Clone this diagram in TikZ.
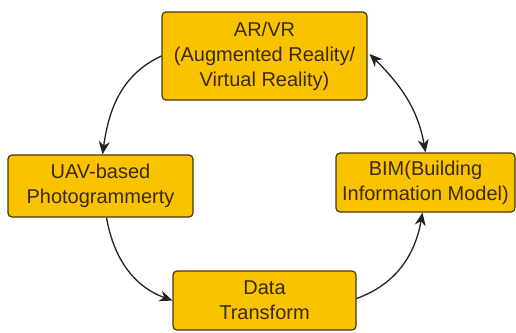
\documentclass[tikz,border=0pt]{standalone}
\usepackage{fontspec}
\setmainfont{Liberation Sans}
\usetikzlibrary{arrows.meta}
\definecolor{boxfill}{HTML}{FAC300}
\definecolor{boxdraw}{HTML}{4A3510}
\definecolor{boxtext}{HTML}{3A2A08}
\definecolor{linec}{HTML}{222222}
\tikzset{
  box/.style={draw=boxdraw, fill=boxfill, line width=1.2pt, rounded corners=4pt,
    align=center, text=boxtext, inner sep=0pt,
    font=\fontsize{20}{25}\selectfont},
  conn/.style={draw=linec, line width=1.3pt, -{Stealth[length=13pt,width=11pt]}},
  dconn/.style={draw=linec, line width=1.3pt, {Stealth[length=13pt,width=11pt]}-{Stealth[length=13pt,width=11pt]}}
}
\begin{document}
\begin{tikzpicture}[x=1pt,y=-1pt]
\useasboundingbox (0,0) rectangle (516,332);
\node[box, minimum width=205pt, minimum height=88pt] (ar) at (264.5,56) {AR/VR\\(Augmented Reality/\\Virtual Reality)};
\node[box, minimum width=185pt, minimum height=62pt] (uav) at (100.5,186) {UAV-based\\Photogrammerty};
\node[box, minimum width=179pt, minimum height=59pt] (bim) at (425.5,182.5) {BIM(Building\\Information Model)};
\node[box, minimum width=183pt, minimum height=59pt] (dt) at (264.5,300.5) {Data\\Transform};
\draw[conn] (ar.west) to[out=205, in=82] ([xshift=2pt]uav.north);
\draw[conn] ([xshift=6pt]uav.south) to[out=-80, in=160] (dt.west);
\draw[conn] ([yshift=2pt]dt.east) to[out=20, in=-100] ([xshift=-3pt]bim.south);
\draw[dconn] ([xshift=2pt,yshift=2pt]ar.east) to[out=-45, in=100] (bim.north);
\end{tikzpicture}
\end{document}
